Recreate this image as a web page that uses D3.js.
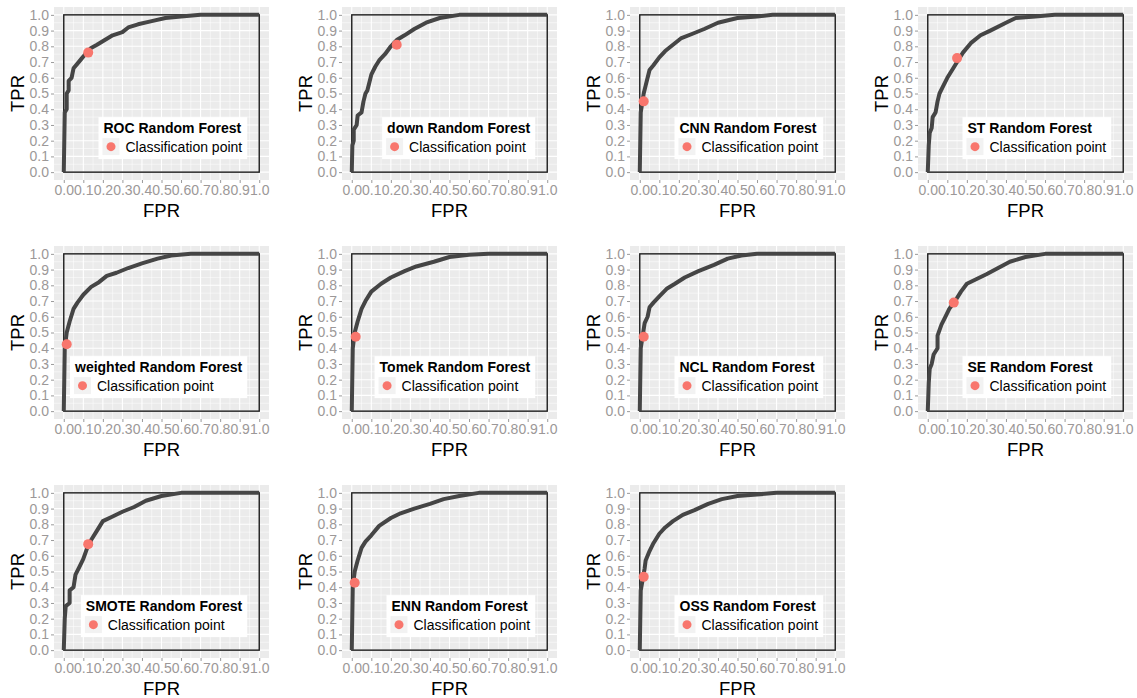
<!DOCTYPE html>
<html>
<head>
<meta charset="utf-8">
<script src="https://cdn.jsdelivr.net/npm/d3@7"></script>
<style>
  body { margin: 0; background: #fff; }
  text { font-family: "Liberation Sans", Arial, sans-serif; }
</style>
</head>
<body>
<div id="chart-area"></div>
<script>
// one panel per resampling method
var methods = ['ROC', 'down', 'CNN', 'ST', 'weighted', 'Tomek', 'NCL', 'SE', 'SMOTE', 'ENN', 'OSS'];

// classification point of each method
var pointFPR = [0.125, 0.23, 0.02, 0.15, 0.015, 0.02, 0.02, 0.133, 0.125, 0.015, 0.02];
var pointTPR = [0.76, 0.81, 0.45, 0.725, 0.425, 0.473, 0.473, 0.69, 0.674, 0.428, 0.466];

// ROC curves, [FPR, TPR]
var rocROC = [[0,0],[0.005,0.38],[0.015,0.40],[0.015,0.50],[0.025,0.52],[0.025,0.58],[0.04,0.60],[0.05,0.66],[0.07,0.69],[0.09,0.72],[0.11,0.75],[0.14,0.79],[0.17,0.81],[0.21,0.84],[0.25,0.87],[0.30,0.89],[0.33,0.92],[0.38,0.94],[0.45,0.96],[0.52,0.98],[0.6,0.99],[0.7,1],[1,1]];
var rocDown = [[0,0],[0.003,0.17],[0.01,0.2],[0.01,0.27],[0.025,0.3],[0.03,0.36],[0.05,0.38],[0.06,0.45],[0.07,0.5],[0.08,0.52],[0.09,0.57],[0.1,0.62],[0.12,0.67],[0.14,0.71],[0.17,0.75],[0.2,0.8],[0.23,0.84],[0.27,0.87],[0.32,0.91],[0.38,0.95],[0.45,0.98],[0.55,1],[1,1]];
var rocCNN = [[0,0],[0.005,0.38],[0.01,0.42],[0.02,0.5],[0.03,0.55],[0.04,0.6],[0.05,0.65],[0.07,0.68],[0.1,0.73],[0.13,0.77],[0.17,0.81],[0.21,0.85],[0.27,0.88],[0.33,0.91],[0.4,0.95],[0.5,0.98],[0.6,0.99],[0.68,1],[1,1]];
var rocST = [[0,0],[0.005,0.17],[0.01,0.25],[0.02,0.28],[0.025,0.35],[0.04,0.38],[0.05,0.45],[0.06,0.5],[0.08,0.55],[0.1,0.6],[0.12,0.64],[0.15,0.7],[0.18,0.76],[0.22,0.82],[0.27,0.87],[0.32,0.9],[0.4,0.95],[0.45,0.98],[0.55,0.99],[0.65,1],[1,1]];
var rocWeighted = [[0,0],[0.005,0.4],[0.015,0.5],[0.03,0.57],[0.05,0.65],[0.07,0.69],[0.1,0.74],[0.14,0.79],[0.18,0.82],[0.22,0.86],[0.27,0.88],[0.33,0.91],[0.4,0.94],[0.48,0.97],[0.55,0.99],[0.65,1],[1,1]];
var rocTomek = [[0,0],[0.005,0.4],[0.015,0.5],[0.03,0.57],[0.05,0.65],[0.07,0.7],[0.1,0.76],[0.15,0.81],[0.2,0.85],[0.27,0.89],[0.33,0.92],[0.42,0.95],[0.5,0.98],[0.6,0.995],[0.7,1],[1,1]];
var rocNCL = [[0,0],[0.005,0.4],[0.015,0.48],[0.025,0.56],[0.04,0.6],[0.05,0.66],[0.07,0.69],[0.1,0.73],[0.14,0.78],[0.18,0.81],[0.23,0.85],[0.3,0.89],[0.38,0.93],[0.45,0.97],[0.52,0.99],[0.6,1],[1,1]];
var rocSE = [[0,0],[0.005,0.18],[0.01,0.27],[0.02,0.3],[0.03,0.36],[0.05,0.4],[0.05,0.48],[0.07,0.55],[0.09,0.6],[0.11,0.65],[0.14,0.7],[0.17,0.76],[0.2,0.81],[0.25,0.84],[0.3,0.87],[0.36,0.91],[0.42,0.95],[0.5,0.98],[0.6,1],[1,1]];
var rocSMOTE = [[0,0],[0.005,0.2],[0.01,0.28],[0.03,0.3],[0.03,0.38],[0.05,0.4],[0.06,0.48],[0.08,0.53],[0.1,0.58],[0.12,0.65],[0.14,0.7],[0.17,0.76],[0.2,0.82],[0.25,0.85],[0.3,0.88],[0.36,0.91],[0.42,0.95],[0.5,0.98],[0.6,1],[1,1]];
var rocENN = [[0,0],[0.005,0.4],[0.015,0.5],[0.03,0.57],[0.05,0.65],[0.07,0.69],[0.1,0.73],[0.14,0.79],[0.2,0.84],[0.25,0.87],[0.32,0.9],[0.4,0.93],[0.47,0.96],[0.55,0.98],[0.65,1],[1,1]];
var rocOSS = [[0,0],[0.005,0.38],[0.015,0.45],[0.025,0.52],[0.03,0.57],[0.05,0.63],[0.07,0.68],[0.1,0.74],[0.13,0.78],[0.17,0.82],[0.22,0.86],[0.28,0.89],[0.35,0.93],[0.42,0.96],[0.5,0.98],[0.6,0.99],[0.7,1],[1,1]];

var curves = [rocROC, rocDown, rocCNN, rocST, rocWeighted, rocTomek, rocNCL, rocSE, rocSMOTE, rocENN, rocOSS];

var tickValues = [0, 0.1, 0.2, 0.3, 0.4, 0.5, 0.6, 0.7, 0.8, 0.9, 1.0];
var minorValues = [0.05, 0.15, 0.25, 0.35, 0.45, 0.55, 0.65, 0.75, 0.85, 0.95];

var width = 1137, height = 698;
var pw = 215, ph = 173;          // grey panel size
var colStep = 288, rowStep = 239;
var panelLeft = 54, panelTop = 7;

var svg = d3.select('#chart-area').append('svg')
    .attr('width', width)
    .attr('height', height);

var x = d3.scaleLinear().domain([-0.05, 1.05]).range([0, pw]);
var y = d3.scaleLinear().domain([-0.05, 1.05]).range([ph, 0]);

var line = d3.line().x(d => x(d[0])).y(d => y(d[1]));

methods.forEach((m, i) => {
	var col = i % 4, row = Math.floor(i / 4);
	var g = svg.append('g')
		.attr('transform', `translate(${panelLeft + col * colStep}, ${panelTop + row * rowStep})`);

	g.append('rect').attr('width', pw).attr('height', ph).attr('fill', '#ebebeb');

	// minor grid
	minorValues.forEach(v => {
		g.append('line').attr('x1', x(v)).attr('x2', x(v)).attr('y1', 0).attr('y2', ph)
			.attr('stroke', '#fff').attr('stroke-width', 0.5);
		g.append('line').attr('y1', y(v)).attr('y2', y(v)).attr('x1', 0).attr('x2', pw)
			.attr('stroke', '#fff').attr('stroke-width', 0.5);
	});
	// major grid
	tickValues.forEach(v => {
		g.append('line').attr('x1', x(v)).attr('x2', x(v)).attr('y1', 0).attr('y2', ph)
			.attr('stroke', '#fff').attr('stroke-width', 1.1);
		g.append('line').attr('y1', y(v)).attr('y2', y(v)).attr('x1', 0).attr('x2', pw)
			.attr('stroke', '#fff').attr('stroke-width', 1.1);
	});

	// axes
	var xAxis = g.append('g').attr('class', 'x-axis').attr('transform', `translate(0, ${ph})`)
		.call(d3.axisBottom(x).tickValues(tickValues).tickFormat(d3.format('.1f')).tickSize(3).tickPadding(2));
	var yAxis = g.append('g').attr('class', 'y-axis')
		.call(d3.axisLeft(y).tickValues(tickValues).tickFormat(d3.format('.1f')).tickSize(3).tickPadding(2));
	[xAxis, yAxis].forEach(a => {
		a.attr('font-size', 14);
		a.select('.domain').remove();
		a.selectAll('.tick line').attr('stroke', '#9a9a9a');
		a.selectAll('.tick text').attr('fill', '#9c9898')
			.style('font-size', '14px')
			.style('font-family', '"Liberation Sans", Arial, sans-serif');
	});

	g.append('text')
		.attr('x', pw / 2).attr('y', ph + 37)
		.attr('text-anchor', 'middle').attr('font-size', '18.5px').attr('fill', '#000')
		.text('FPR');
	g.append('text')
		.attr('transform', `translate(${-30}, ${ph / 2}) rotate(-90)`)
		.attr('text-anchor', 'middle').attr('font-size', '18.5px').attr('fill', '#000')
		.text('TPR');

	// unit square
	g.append('rect')
		.attr('x', x(0)).attr('y', y(1))
		.attr('width', x(1) - x(0)).attr('height', y(0) - y(1))
		.attr('fill', 'none').attr('stroke', '#1a1a1a').attr('stroke-width', 1.4);

	g.append('path').datum(curves[i])
		.attr('d', line)
		.attr('fill', 'none').attr('stroke', '#454545').attr('stroke-width', 4)
		.attr('stroke-linejoin', 'round');

	g.append('circle')
		.attr('cx', x(pointFPR[i])).attr('cy', y(pointTPR[i]))
		.attr('r', 5).attr('fill', '#f8766d');

	// legend, anchored bottom-right
	var lg = g.append('g');
	var box = lg.append('rect').attr('fill', '#fff');
	var title = lg.append('text').attr('font-size', '14px').attr('font-weight', 'bold')
		.attr('x', 5).attr('y', 16).text(m + ' Random Forest');
	lg.append('rect').attr('x', 4).attr('y', 21).attr('width', 17).attr('height', 17).attr('fill', '#f2f2f2');
	lg.append('circle').attr('cx', 12.5).attr('cy', 29.5).attr('r', 4.5).attr('fill', '#f8766d');
	var lab = lg.append('text').attr('font-size', '14px').attr('x', 27).attr('y', 34.5)
		.text('Classification point');
	var bw = Math.max(title.node().getComputedTextLength() + 10, lab.node().getComputedTextLength() + 32);
	var bh = 42;
	box.attr('width', bw).attr('height', bh);
	lg.attr('transform', `translate(${x(1) - 12 - bw}, ${y(0) - 13 - bh})`);
});
</script>
</body>
</html>
